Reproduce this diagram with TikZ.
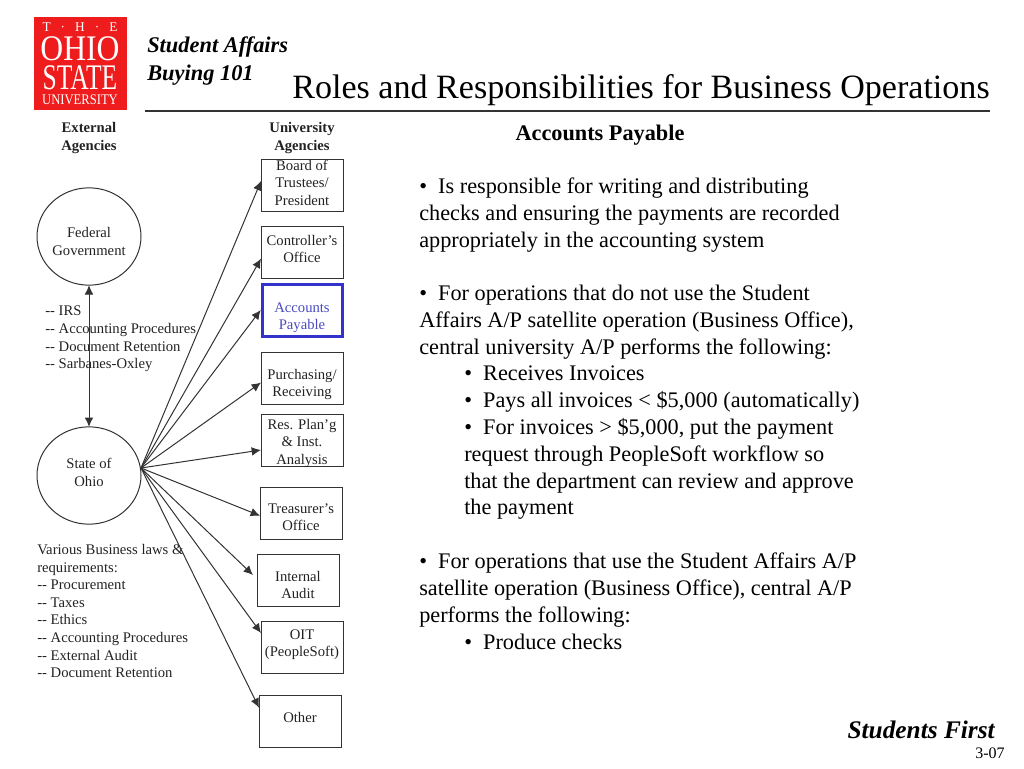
\documentclass[tikz,border=0pt]{standalone}
\usepackage{fontspec}
\setmainfont{Liberation Serif}
\usepackage{xcolor}
\usetikzlibrary{arrows.meta,positioning,shapes.geometric}
\definecolor{OhioRed}{HTML}{EE1C1C}
\definecolor{AccountsBlue}{HTML}{3333CC}
\definecolor{AccountsText}{HTML}{4A4AC0}
\definecolor{LineGrey}{HTML}{333333}
\definecolor{TextGrey}{HTML}{222222}
\newcommand{\smallFont}{\fontsize{11}{13.2}\selectfont}
\newcommand{\bodyFont}{\fontsize{16.7}{20.1}\selectfont}
\newcommand{\squeezed}[2]{\scalebox{#1}[1]{#2}}

\begin{document}
\begin{tikzpicture}[
  x=0.75pt,y=-0.75pt,
  unit/.style={draw=LineGrey,line width=0.75pt,minimum width=61.5pt,minimum height=39pt,inner sep=0pt,outer sep=0pt,align=center,font=\smallFont,text=TextGrey},
  agency/.style={ellipse,draw=LineGrey,line width=0.75pt,minimum width=78pt,minimum height=73pt,inner sep=0pt,outer sep=0pt,align=center,font=\smallFont,text=TextGrey},
  heading/.style={inner sep=0pt,align=center,font=\smallFont\bfseries,text=TextGrey},
  note/.style={inner sep=0pt,anchor=west,align=left,font=\smallFont,text=TextGrey},
  para/.style={inner sep=0pt,anchor=west,align=left,font=\bodyFont,text=black},
  logotext/.style={inner sep=0pt,text=white},
  edge/.style={-{Latex[length=7pt,width=6.5pt]},draw=LineGrey,line width=0.75pt}
]
\useasboundingbox (0,0) rectangle (1024,768);
% header
\node[fill=OhioRed,minimum size=69.75pt,inner sep=0pt] (logo) at (80.5,63.5) {};
\node[logotext,font=\fontsize{10}{10}\selectfont] (logoThe) at (80,27) {T\hspace{7.5pt}·\hspace{7.5pt}H\hspace{7.5pt}·\hspace{7.5pt}E};
\node[logotext,font=\fontsize{27}{27}\selectfont] (logoOhio) at (80,49) {\squeezed{0.88}{OHIO}};
\node[logotext,font=\fontsize{27}{27}\selectfont] (logoState) at (80,78) {\squeezed{0.71}{STATE}};
\node[logotext,font=\fontsize{11}{11}\selectfont] (logoUniv) at (80,100) {\squeezed{0.86}{UNIVERSITY}};
\node[inner sep=0pt,anchor=west,align=left,font=\fontsize{16.8}{21}\selectfont\bfseries\itshape] (course) at (147,61) {Student Affairs\\Buying 101};
\node[inner sep=0pt,anchor=east,font=\fontsize{25.55}{25.55}\selectfont] (title) at (990,90) {Roles and Responsibilities for Business Operations};
\coordinate (ruleStart) at (145,111);
\coordinate (ruleEnd) at (990,111);
\draw[line width=1pt,draw=LineGrey] (ruleStart) -- (ruleEnd);
% left column
\node[heading] (external) at (89,138) {External\\Agencies};
\node[heading] (university) at (302,138) {University\\Agencies};
\node[agency,text height=28.2pt] (federal) at (89,236.5) {Federal\\Government};
\node[agency,text depth=4.5pt] (state) at (89,475.5) {State of\\Ohio};
\coordinate (hub) at (141,468);
\node[note] (irs) at (45,339) {-{}- IRS\\-{}- Accounting Procedures\\-{}- Document Retention\\-{}- Sarbanes-Oxley};
\node[note] (laws) at (37,611) {Various Business laws \&\\requirements:\\-{}- Procurement\\-{}- Taxes\\-{}- Ethics\\-{}- Accounting Procedures\\-{}- External Audit\\-{}- Document Retention};
% university boxes
\node[unit,text depth=3.8pt] (board) at (302,185) {Board of\\Trustees/\\President};
\node[unit,text depth=4.5pt,below=11.25pt of board] (controller) {Controller’s\\Office};
\node[unit,text height=31.9pt,below=4.5pt of controller,draw=AccountsBlue,line width=2.25pt,minimum width=60pt,minimum height=39pt,text=AccountsText] (payable) {Accounts\\Payable};
\node[unit,text height=30.5pt,below=12pt of payable] (purchasing) {Purchasing/\\Receiving};
\node[unit,text height=36.6pt,text depth=0pt,below=7.5pt of purchasing] (resplan) {Res. Plan’g\\\& Inst.\\Analysis};
\node[unit,text height=26.7pt,below=15.75pt of resplan,xshift=-0.75pt] (treasurer) {Treasurer’s\\Office};
\node[unit,text height=28.2pt,below=11.25pt of treasurer,xshift=-2.25pt] (audit) {Internal\\Audit};
\node[unit,text depth=5.6pt,below=11.25pt of audit,xshift=3pt] (oit) {OIT\\(PeopleSoft)};
\node[unit,text depth=6pt,below=16.5pt of oit,xshift=-1.5pt] (other) {Other};
% connectors
\draw[edge,{Latex[length=7pt,width=6.5pt]}-{Latex[length=7pt,width=6.5pt]}] (federal) -- (state);
\draw[edge] (hub) -- ([yshift=3pt]board.west);
\draw[edge] (hub) -- ([yshift=-5pt]controller.west);
\draw[edge] (hub) -- ([xshift=-1pt]payable.west);
\draw[edge] (hub) -- ([yshift=-3.4pt]purchasing.west);
\draw[edge] (hub) -- ([yshift=-7.5pt]resplan.west);
\draw[edge] (hub) -- ([yshift=-2pt]treasurer.west);
\draw[edge] (hub) -- ([xshift=-3pt,yshift=3.75pt]audit.west);
\draw[edge] (hub) -- ([yshift=10.5pt]oit.west);
\draw[edge] (hub) -- ([yshift=10pt]other.west);
% right column
\node[inner sep=0pt,font=\fontsize{16.7}{18}\selectfont\bfseries] (panel) at (600,135) {Accounts Payable};
\node[para] (first) at (419,215) {•~~Is responsible for writing and distributing\\checks and ensuring the payments are recorded\\appropriately in the accounting system};
\node[para] (second) at (419,322) {•~~For operations that do not use the Student\\Affairs A/P satellite operation (Business Office),\\central university A/P performs the following:};
\node[para] (secondSub) at (464,443) {•~~Receives Invoices\\•~~Pays all invoices < \$5,000 (automatically)\\•~~For invoices > \$5,000, put the payment\\request through PeopleSoft workflow so\\that the department can review and approve\\the payment};
\node[para] (third) at (419,590) {•~~For operations that use the Student Affairs A/P\\satellite operation (Business Office), central A/P\\performs the following:};
\node[para] (thirdSub) at (464,642) {•~~Produce checks};
% footer
\node[inner sep=0pt,anchor=east,font=\fontsize{19}{19}\selectfont\bfseries\itshape] (motto) at (995,730) {Students First};
\node[inner sep=0pt,anchor=east,font=\fontsize{12}{12}\selectfont] (pagenum) at (1005,753) {3-07};
\end{tikzpicture}
\end{document}
